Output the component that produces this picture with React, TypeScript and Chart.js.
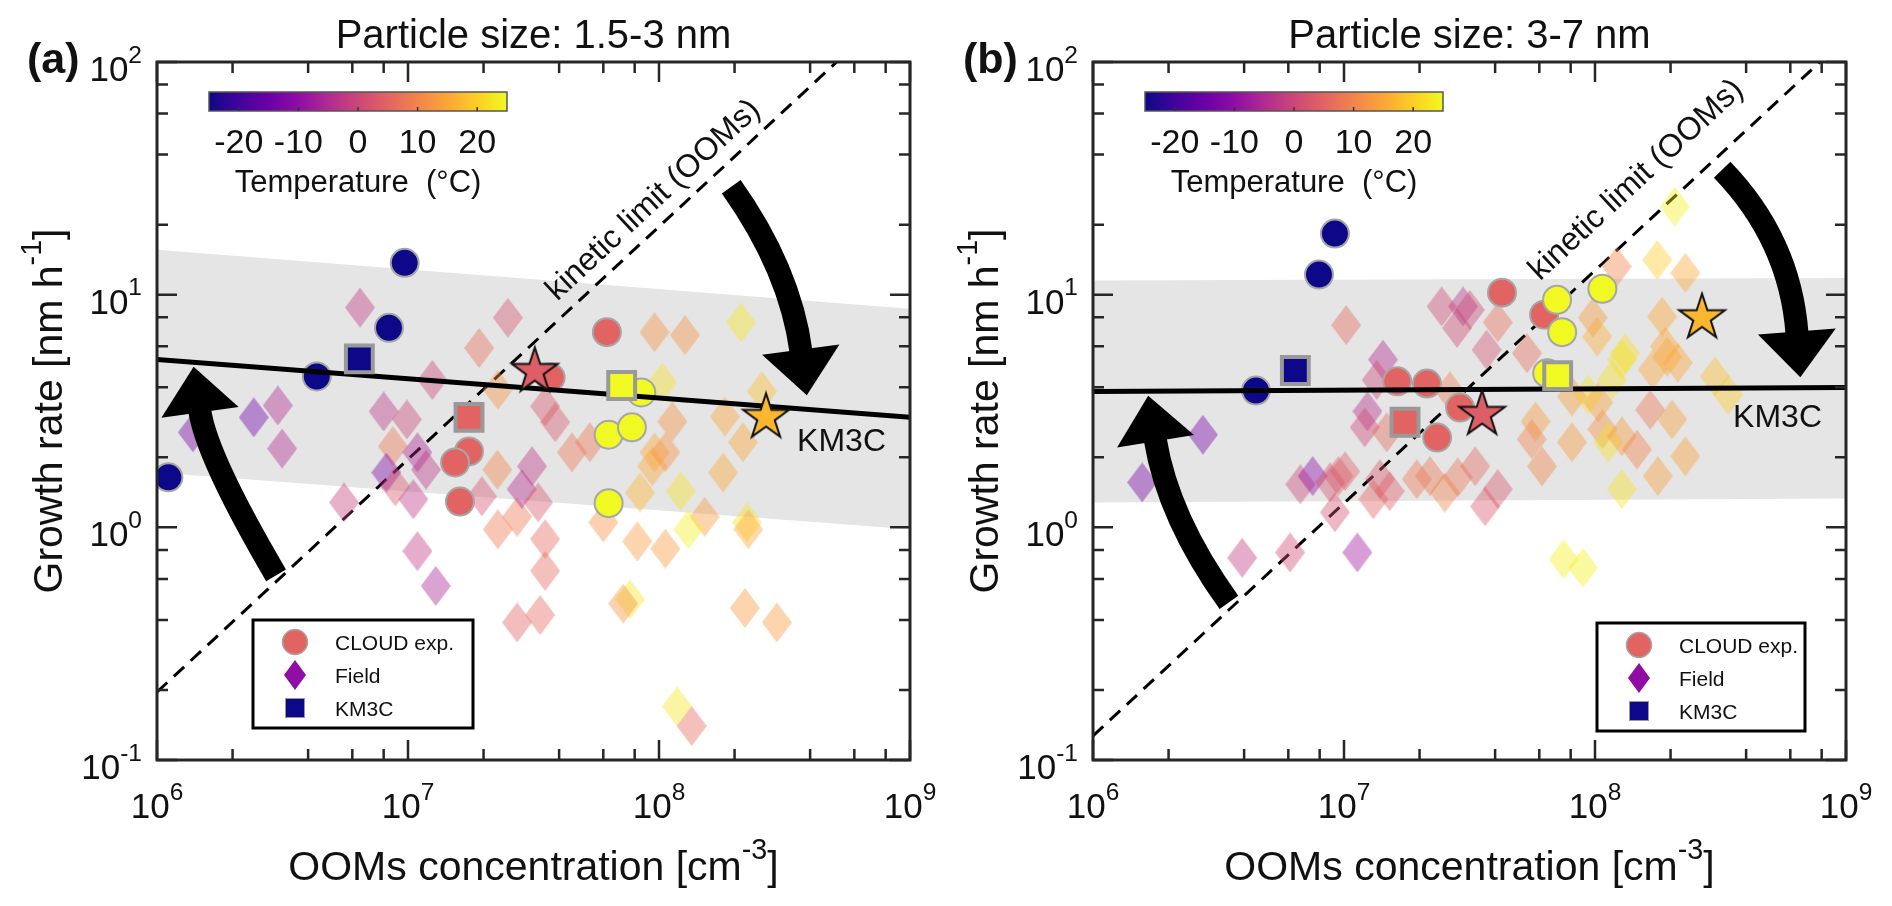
import { useEffect, useRef } from 'react';
import { Chart, registerables } from 'chart.js';

Chart.register(...registerables);

const FONT = '"Liberation Sans", Arial, Helvetica, sans-serif';

// axis ranges
const X_MIN = 1e6;
const X_MAX = 1e9;
const Y_MIN = 0.1;
const Y_MAX = 100;
const LINE_CONC = [1e6, 1e9];

// temperature colour scale (degC)
const T_MIN = -25;
const T_MAX = 25;
const T_TICKS = [-20, -10, 0, 10, 20];

// ---------- panel (a): 1.5-3 nm ----------
const cloudConcA = [9.7e6, 8.4e6, 4.33e6, 1.11e6, 1.75e7, 1.54e7, 1.61e7, 3.7e7, 6.2e7, 8.5e7, 6.3e7, 7.8e7, 6.3e7];
const cloudGrA = [13.7, 7.2, 4.45, 1.64, 2.12, 1.9, 1.29, 4.4, 6.9, 3.8, 2.5, 2.69, 1.27];
const cloudTempA = [-25, -25, -25, -25, 5, 5, 5, 5, 5, 25, 25, 25, 25];

const km3cConcA = [6.4e6, 1.75e7, 7.1e7];
const km3cGrA = [5.3, 2.97, 4.07];
const km3cTempA = [-25, 5, 25];

const starConcA = [3.2e7, 2.67e8];
const starGrA = [4.68, 2.97];
const starTempA = [4, 17];

const fieldConcA = [
  6.44e6, 3.03e6, 2.43e6, 3.15e6, 1.39e6, 8.0e6, 9.9e6, 8.7e6, 8.2e6, 1.09e7,
  1.18e7, 1.25e7, 5.56e6, 1.05e7, 8.9e6, 1.09e7, 1.29e7, 2.5e7, 1.92e7, 2.28e7,
  2.72e7, 2.28e7, 2.27e7, 2.72e7, 1.97e7, 2.84e7, 9.6e7, 1.27e8, 2.12e8, 1.03e8,
  2.57e8, 1.13e8, 1.83e8, 2.16e8, 9.6e7, 9.4e7, 1.06e8, 4.5e7, 5.3e7, 3.86e7,
  3.52e7, 3.12e7, 1.8e8, 8.4e7, 1.22e8, 1.52e8, 1.31e8, 2.24e8, 2.27e8, 6.0e7,
  8.2e7, 1.06e8, 3.52e7, 3.52e7, 3.36e7, 7.66e7, 7.2e7, 2.2e8, 2.95e8, 1.18e8,
  1.35e8, 3.3e7,
];
const fieldGrA = [
  8.8, 3.34, 2.97, 2.18, 2.56, 3.15, 2.91, 2.23, 1.72, 2.1,
  1.77, 4.3, 1.28, 1.32, 1.5, 0.79, 0.56, 7.96, 5.9, 3.9,
  0.39, 0.98, 1.77, 1.11, 1.36, 1.46, 6.9, 6.7, 7.6, 4.19,
  3.84, 2.85, 2.99, 2.32, 2.1, 1.83, 2.1, 2.1, 2.32, 2.83,
  3.31, 1.83, 1.72, 1.41, 1.43, 1.11, 0.98, 1.05, 0.98, 1.05,
  0.87, 0.81, 0.89, 0.65, 0.42, 0.49, 0.47, 0.45, 0.39, 0.17,
  0.14, 1.28,
];
const fieldTempA = [
  -2, -5, -14, -5, -13, -3, 0, 8, -12, -6,
  -3, 0, -1, -3, 3, -2, -6, 2, 7, 12,
  5, 8, 10, 8, 2, -5, 12, 12, 23, 22,
  18, 12, 15, 15, 15, 15, 12, 8, 8, 3,
  3, -3, 15, 17, 22, 13, 24, 22, 15, 12,
  13, 13, 6, 6, 6, 23, 12, 13, 13, 23,
  6, 3,
];

const fitGrA = [5.26, 2.97];
const bandUpperA = [15.6, 8.7];
const bandLowerA = [1.72, 0.98];
const kineticConcA = [1e6, 5.1e8];
const kineticGrA = [0.196, 100];

// ---------- panel (b): 3-7 nm ----------
const cloudConcB = [9.2e6, 7.95e6, 4.46e6, 1.63e7, 2.14e7, 2.9e7, 2.35e7, 4.26e7, 6.27e7, 7.06e7, 1.07e8, 7.4e7, 6.45e7];
const cloudGrB = [18.3, 12.2, 3.87, 4.24, 4.15, 3.27, 2.43, 10.2, 8.2, 9.5, 10.6, 6.9, 4.6];
const cloudTempB = [-25, -25, -25, 5, 5, 5, 5, 5, 5, 25, 25, 25, 25];

const km3cConcB = [6.4e6, 1.75e7, 7.1e7];
const km3cGrB = [4.72, 2.83, 4.49];
const km3cTempB = [-25, 5, 25];

const starConcB = [3.55e7, 2.67e8];
const starGrB = [3.06, 7.96];
const starTempB = [4, 17];

const fieldConcB = [
  1.02e7, 2.74e6, 1.57e6, 1.43e7, 1.35e7, 1.24e7, 1.21e7, 2.45e7, 2.82e7, 2.98e7,
  6.7e6, 7.5e6, 9.5e6, 1.01e7, 8.8e6, 1.39e7, 1.31e7, 1.52e7, 1.95e7, 2.2e7,
  2.52e7, 2.84e7, 9.2e6, 3.93e6, 6.1e6, 1.13e7, 1.48e7, 2.64e7, 2.08e8, 1.77e8,
  1.22e8, 2.29e8, 4.1e7, 3.17e7, 3.7e7, 5.36e7, 9.8e7, 1.02e8, 1.85e8, 1.32e8,
  1.28e8, 1.94e8, 2.14e8, 1.7e8, 3.0e8, 3.39e8, 1.17e8, 9.4e7, 8.1e7, 1.03e8,
  5.8e7, 5.6e7, 8.1e7, 1.07e8, 1.13e8, 1.28e8, 1.66e8, 2.03e8, 1.47e8, 2.29e8,
  1.78e8, 1.28e8, 6.15e7, 4.1e7, 3.65e7, 3.33e7, 7.5e7, 8.95e7, 1.9e8,
];
const fieldGrB = [
  7.4, 2.5, 1.56, 5.26, 4.3, 3.15, 2.69, 8.9, 7.2, 8.9,
  1.53, 1.66, 1.66, 1.74, 1.56, 1.61, 1.32, 1.43, 1.61, 1.66,
  1.41, 1.64, 1.16, 0.74, 0.78, 0.78, 2.56, 3.84, 23.9, 14.1,
  13.2, 12.4, 7.6, 8.6, 5.8, 5.6, 7.96, 6.6, 8.05, 5.6,
  5.26, 5.4, 5.1, 4.77, 4.45, 3.72, 4.31, 3.72, 3.65, 3.44,
  2.85, 2.39, 2.32, 2.64, 2.32, 2.46, 3.2, 2.91, 2.16, 2.02,
  1.66, 1.46, 1.83, 1.46, 1.23, 1.83, 0.73, 0.67, 6.0,
];
const fieldTempB = [
  6, -13, -13, -5, 0, -4, 0, 1, 1, -3,
  0, -10, 4, 4, 2, 3, 5, 4, 8, 8,
  10, 8, 2, -2, 1, -8, 6, 9, 24, 20,
  10, 15, 7, 0, 2, 7, 13, 16, 15, 22,
  22, 15, 15, 15, 18, 20, 22, 22, 14, 14,
  13, 10, 13, 12, 22, 13, 8, 14, 10, 14,
  14, 22, 10, 3, 3, 6, 24, 24, 15,
];

const fitGrB = [3.84, 3.99];
const bandUpperB = [11.5, 11.8];
const bandLowerB = [1.28, 1.33];
const kineticConcB = [1e6, 7.87e8];
const kineticGrB = [0.127, 100];

// curved arrows: tail, control, head base (conc, GR pairs)
const arrowsA = [
  [2.98e6, 0.622, 1.57e6, 2.02, 1.48e6, 3.18],
  [1.94e8, 29.1, 3.33e8, 12.8, 3.68e8, 5.69],
];
const arrowsB = [
  [3.48e6, 0.476, 1.99e6, 1.1, 1.77e6, 2.39],
  [3.21e8, 34.4, 5.98e8, 17.2, 6.38e8, 6.81],
];

const PLASMA = ['#0d0887', '#41049d', '#6a00a8', '#8f0da4', '#b12a90', '#cc4778', '#e16462', '#f2844b', '#fca636', '#fcce25', '#f0f921'];

function hexRgb(h: string) {
  return [parseInt(h.slice(1, 3), 16), parseInt(h.slice(3, 5), 16), parseInt(h.slice(5, 7), 16)];
}

function tempColor(T: number, alpha = 1) {
  const t = Math.min(1, Math.max(0, (T - T_MIN) / (T_MAX - T_MIN))) * 10;
  const i = Math.min(9, Math.floor(t));
  const f = t - i;
  const a = hexRgb(PLASMA[i]);
  const b = hexRgb(PLASMA[i + 1]);
  const c = a.map((v, k) => Math.round(v + (b[k] - v) * f));
  return `rgba(${c[0]},${c[1]},${c[2]},${alpha})`;
}

function diamondImg(color: string, w = 30, h = 40) {
  const c = document.createElement('canvas');
  c.width = w;
  c.height = h;
  const g = c.getContext('2d')!;
  g.fillStyle = color;
  g.beginPath();
  g.moveTo(w / 2, 0);
  g.lineTo(w, h / 2);
  g.lineTo(w / 2, h);
  g.lineTo(0, h / 2);
  g.closePath();
  g.fill();
  return c;
}

function starPath(g: CanvasRenderingContext2D, cx: number, cy: number, r: number) {
  g.beginPath();
  for (let k = 0; k < 10; k++) {
    const rr = k % 2 === 0 ? r : r * 0.382;
    const ang = -Math.PI / 2 + (k * Math.PI) / 5;
    const px = cx + rr * Math.cos(ang);
    const py = cy + rr * Math.sin(ang);
    if (k === 0) g.moveTo(px, py);
    else g.lineTo(px, py);
  }
  g.closePath();
}

function starImg(color: string, r = 24) {
  const s = Math.ceil(2 * r + 6);
  const c = document.createElement('canvas');
  c.width = s;
  c.height = s;
  const g = c.getContext('2d')!;
  starPath(g, s / 2, s / 2, r);
  g.fillStyle = color;
  g.fill();
  g.lineWidth = 2;
  g.lineJoin = 'miter';
  g.strokeStyle = '#111';
  g.stroke();
  return c;
}

type Part = [string, boolean];

function drawRich(ctx: CanvasRenderingContext2D, parts: Part[], x: number, y: number, size: number, align: 'left' | 'center' | 'right') {
  const supSize = size * 0.7;
  const widths = parts.map(([t, sup]) => {
    ctx.font = `${sup ? supSize : size}px ${FONT}`;
    return ctx.measureText(t).width;
  });
  const total = widths.reduce((s, w) => s + w, 0);
  let cx = align === 'left' ? x : align === 'center' ? x - total / 2 : x - total;
  ctx.textAlign = 'left';
  ctx.textBaseline = 'alphabetic';
  parts.forEach(([t, sup], i) => {
    ctx.font = `${sup ? supSize : size}px ${FONT}`;
    ctx.fillText(t, cx, sup ? y - size * 0.52 : y);
    cx += widths[i];
  });
}

interface Panel {
  tag: string;
  title: string;
  cloud: { conc: number[]; gr: number[]; temp: number[] };
  km3c: { conc: number[]; gr: number[]; temp: number[] };
  star: { conc: number[]; gr: number[]; temp: number[] };
  field: { conc: number[]; gr: number[]; temp: number[] };
  fit: number[];
  upper: number[];
  lower: number[];
  kinConc: number[];
  kinGr: number[];
  arrows: number[][];
  km3cLabel: [number, number];
  kinLabel: [number, number];
  legend: { dx: number; dy: number; w: number };
}

const panelA: Panel = {
  tag: '(a)',
  title: 'Particle size: 1.5-3 nm',
  cloud: { conc: cloudConcA, gr: cloudGrA, temp: cloudTempA },
  km3c: { conc: km3cConcA, gr: km3cGrA, temp: km3cTempA },
  star: { conc: starConcA, gr: starGrA, temp: starTempA },
  field: { conc: fieldConcA, gr: fieldGrA, temp: fieldTempA },
  fit: fitGrA,
  upper: bandUpperA,
  lower: bandLowerA,
  kinConc: kineticConcA,
  kinGr: kineticGrA,
  arrows: arrowsA,
  km3cLabel: [3.55e8, 2.12],
  kinLabel: [3.93e7, 9.33],
  legend: { dx: 96, dy: 558, w: 220 },
};

const panelB: Panel = {
  tag: '(b)',
  title: 'Particle size: 3-7 nm',
  cloud: { conc: cloudConcB, gr: cloudGrB, temp: cloudTempB },
  km3c: { conc: km3cConcB, gr: km3cGrB, temp: km3cTempB },
  star: { conc: starConcB, gr: starGrB, temp: starTempB },
  field: { conc: fieldConcB, gr: fieldGrB, temp: fieldTempB },
  fit: fitGrB,
  upper: bandUpperB,
  lower: bandLowerB,
  kinConc: kineticConcB,
  kinGr: kineticGrB,
  arrows: arrowsB,
  km3cLabel: [3.55e8, 2.69],
  kinLabel: [6.04e7, 11.4],
  legend: { dx: 504, dy: 561, w: 208 },
};

const pts = (conc: number[], gr: number[]) => conc.map((c, i) => ({ x: c, y: gr[i] }));

function makeDatasets(p: Panel): any[] {
  return [
    {
      data: pts(LINE_CONC, p.upper), showLine: true, fill: '+1', backgroundColor: '#e5e5e5',
      borderColor: 'rgba(0,0,0,0)', borderWidth: 0, pointRadius: 0, order: 10,
    },
    {
      data: pts(LINE_CONC, p.lower), showLine: true, fill: false,
      borderColor: 'rgba(0,0,0,0)', borderWidth: 0, pointRadius: 0, order: 10,
    },
    {
      data: pts(p.kinConc, p.kinGr), showLine: true, borderColor: '#000', borderWidth: 3,
      borderDash: [14, 9], pointRadius: 0, order: 9,
    },
    {
      data: pts(p.field.conc, p.field.gr), order: 8, pointRadius: 15,
      pointStyle: p.field.temp.map((t) => diamondImg(tempColor(t, 0.42))),
    },
    {
      data: pts(p.cloud.conc, p.cloud.gr), order: 7, pointStyle: 'circle', pointRadius: 14,
      pointBackgroundColor: p.cloud.temp.map((t) => tempColor(t)), pointBorderColor: '#a6a6a6', pointBorderWidth: 2,
    },
    {
      data: pts(LINE_CONC, p.fit), showLine: true, borderColor: '#000', borderWidth: 5, pointRadius: 0, order: 6,
    },
    {
      data: pts(p.km3c.conc, p.km3c.gr), order: 5, pointStyle: 'rect', pointRadius: 19,
      pointBackgroundColor: p.km3c.temp.map((t) => tempColor(t)), pointBorderColor: '#999', pointBorderWidth: 4,
    },
    {
      data: pts(p.star.conc, p.star.gr), order: 4, pointRadius: 24,
      pointStyle: p.star.temp.map((t) => starImg(tempColor(t))),
    },
  ];
}

function drawArrow(ctx: CanvasRenderingContext2D, x: any, y: any, a: number[]) {
  const p0 = { x: x.getPixelForValue(a[0]), y: y.getPixelForValue(a[1]) };
  const c = { x: x.getPixelForValue(a[2]), y: y.getPixelForValue(a[3]) };
  const p2 = { x: x.getPixelForValue(a[4]), y: y.getPixelForValue(a[5]) };
  ctx.strokeStyle = '#000';
  ctx.fillStyle = '#000';
  ctx.lineWidth = 23;
  ctx.lineCap = 'butt';
  ctx.beginPath();
  ctx.moveTo(p0.x, p0.y);
  ctx.quadraticCurveTo(c.x, c.y, p2.x, p2.y);
  ctx.stroke();
  const dx = p2.x - c.x;
  const dy = p2.y - c.y;
  const len = Math.hypot(dx, dy);
  const ux = dx / len;
  const uy = dy / len;
  const bx = p2.x - ux * 2;
  const by = p2.y - uy * 2;
  ctx.beginPath();
  ctx.moveTo(bx - uy * 39, by + ux * 39);
  ctx.lineTo(bx + uy * 39, by - ux * 39);
  ctx.lineTo(p2.x + ux * 44, p2.y + uy * 44);
  ctx.closePath();
  ctx.fill();
}

function panelPlugin(p: Panel) {
  return {
    id: 'panelDecor',
    afterDatasetsDraw(chart: any) {
      const { ctx, scales } = chart;
      ctx.save();
      p.arrows.forEach((a) => drawArrow(ctx, scales.x, scales.y, a));
      ctx.restore();
    },
    afterDraw(chart: any) {
      const { ctx, chartArea: area, scales } = chart;
      const { x, y } = scales;
      const L = area.left;
      const R = area.right;
      const T = area.top;
      const B = area.bottom;
      ctx.save();
      ctx.fillStyle = '#111';

      // text labels in the plot
      ctx.font = `32px ${FONT}`;
      ctx.textAlign = 'left';
      ctx.textBaseline = 'alphabetic';
      ctx.fillText('KM3C', x.getPixelForValue(p.km3cLabel[0]), y.getPixelForValue(p.km3cLabel[1]));
      const k0x = x.getPixelForValue(p.kinConc[0]);
      const k0y = y.getPixelForValue(p.kinGr[0]);
      const k1x = x.getPixelForValue(p.kinConc[1]);
      const k1y = y.getPixelForValue(p.kinGr[1]);
      ctx.save();
      ctx.translate(x.getPixelForValue(p.kinLabel[0]), y.getPixelForValue(p.kinLabel[1]));
      ctx.rotate(Math.atan2(k1y - k0y, k1x - k0x));
      ctx.fillText('kinetic limit (OOMs)', 0, 0);
      ctx.restore();

      // legend
      const lx = L + p.legend.dx;
      const ly = T + p.legend.dy;
      ctx.fillStyle = '#fff';
      ctx.fillRect(lx, ly, p.legend.w, 108);
      ctx.lineWidth = 3;
      ctx.strokeStyle = '#000';
      ctx.strokeRect(lx, ly, p.legend.w, 108);
      const mx = lx + 42;
      ctx.beginPath();
      ctx.arc(mx, ly + 22, 12.5, 0, Math.PI * 2);
      ctx.fillStyle = tempColor(5);
      ctx.fill();
      ctx.lineWidth = 1.5;
      ctx.strokeStyle = '#a6a6a6';
      ctx.stroke();
      ctx.beginPath();
      ctx.moveTo(mx, ly + 40);
      ctx.lineTo(mx + 11, ly + 55);
      ctx.lineTo(mx, ly + 70);
      ctx.lineTo(mx - 11, ly + 55);
      ctx.closePath();
      ctx.fillStyle = tempColor(-10);
      ctx.fill();
      ctx.fillStyle = tempColor(-25);
      ctx.fillRect(mx - 9.5, ly + 78.5, 19, 19);
      ctx.strokeStyle = '#999';
      ctx.lineWidth = 1;
      ctx.strokeRect(mx - 9.5, ly + 78.5, 19, 19);
      ctx.fillStyle = '#111';
      ctx.font = `21px ${FONT}`;
      ctx.fillText('CLOUD exp.', lx + 82, ly + 30);
      ctx.fillText('Field', lx + 82, ly + 63);
      ctx.fillText('KM3C', lx + 82, ly + 96);

      // colour bar
      const cbL = L + 52;
      const cbR = L + 350;
      const cbT = T + 30;
      const cbH = 19;
      const grad = ctx.createLinearGradient(cbL, 0, cbR, 0);
      PLASMA.forEach((c, i) => grad.addColorStop(i / (PLASMA.length - 1), c));
      ctx.fillStyle = grad;
      ctx.fillRect(cbL, cbT, cbR - cbL, cbH);
      ctx.strokeStyle = '#555';
      ctx.lineWidth = 1.5;
      ctx.strokeRect(cbL, cbT, cbR - cbL, cbH);
      ctx.fillStyle = '#111';
      ctx.font = `34px ${FONT}`;
      ctx.textAlign = 'center';
      T_TICKS.forEach((t) => {
        const px = cbL + ((t - T_MIN) / (T_MAX - T_MIN)) * (cbR - cbL);
        ctx.strokeStyle = '#333';
        ctx.beginPath();
        ctx.moveTo(px, cbT + cbH);
        ctx.lineTo(px, cbT + cbH - 4);
        ctx.stroke();
        ctx.fillText(String(t), px, T + 91);
      });
      ctx.font = `31px ${FONT}`;
      ctx.fillText('Temperature  (°C)', (cbL + cbR) / 2, T + 130);

      // frame and inward ticks
      ctx.strokeStyle = '#262626';
      ctx.lineWidth = 3;
      ctx.strokeRect(L, T, R - L, B - T);
      ctx.lineWidth = 2.5;
      ctx.beginPath();
      for (let e = 6; e <= 9; e++) {
        for (const m of [1, 2, 4, 6, 8]) {
          const v = m * 10 ** e;
          if (v > X_MAX) continue;
          const px = x.getPixelForValue(v);
          const len = m === 1 ? 20 : 11;
          ctx.moveTo(px, B);
          ctx.lineTo(px, B - len);
          ctx.moveTo(px, T);
          ctx.lineTo(px, T + len);
        }
      }
      for (let e = -1; e <= 2; e++) {
        for (const m of [1, 2, 4, 6, 8]) {
          const v = m * 10 ** e;
          if (v > Y_MAX) continue;
          const py = y.getPixelForValue(v);
          const len = m === 1 ? 20 : 11;
          ctx.moveTo(L, py);
          ctx.lineTo(L + len, py);
          ctx.moveTo(R, py);
          ctx.lineTo(R - len, py);
        }
      }
      ctx.stroke();

      // tick labels
      ctx.fillStyle = '#111';
      for (let e = 6; e <= 9; e++) {
        drawRich(ctx, [['10', false], [String(e), true]], x.getPixelForValue(10 ** e), B + 58, 35, 'center');
      }
      for (let e = -1; e <= 2; e++) {
        drawRich(ctx, [['10', false], [String(e), true]], L - 15, y.getPixelForValue(10 ** e) + 19, 35, 'right');
      }

      // titles
      ctx.font = `40px ${FONT}`;
      ctx.textAlign = 'center';
      ctx.fillText(p.title, (L + R) / 2, T - 14);
      ctx.font = `bold 43px ${FONT}`;
      ctx.textAlign = 'left';
      ctx.fillText(p.tag, L - 130, T + 11);
      drawRich(ctx, [['OOMs concentration [cm', false], ['-3', true], [']', false]], (L + R) / 2, B + 120, 41, 'center');
      ctx.save();
      ctx.translate(L - 95, (T + B) / 2);
      ctx.rotate(-Math.PI / 2);
      drawRich(ctx, [['Growth rate [nm h', false], ['-1', true], [']', false]], 0, 0, 41, 'center');
      ctx.restore();

      ctx.restore();
    },
  };
}

function PanelChart({ panel, left }: { panel: Panel; left: number }) {
  const canvasRef = useRef<HTMLCanvasElement>(null);

  useEffect(() => {
    if (!canvasRef.current) return;
    const chart = new Chart(canvasRef.current, {
      type: 'scatter',
      data: { datasets: makeDatasets(panel) },
      options: {
        responsive: false,
        animation: false,
        events: [],
        layout: { autoPadding: false, padding: { left: 157, right: 36, top: 62, bottom: 146 } },
        scales: {
          x: { type: 'logarithmic', min: X_MIN, max: X_MAX, display: false },
          y: { type: 'logarithmic', min: Y_MIN, max: Y_MAX, display: false },
        },
        plugins: { legend: { display: false }, tooltip: { enabled: false } },
      } as any,
      plugins: [panelPlugin(panel)],
    });
    return () => chart.destroy();
  }, [panel]);

  return (
    <canvas ref={canvasRef} width={946} height={906} style={{ position: 'absolute', left, top: 0 }} />
  );
}

export default function App() {
  return (
    <div style={{ position: 'absolute', left: 0, top: 0, width: 1892, height: 906, background: '#fff' }}>
      <PanelChart panel={panelA} left={0} />
      <PanelChart panel={panelB} left={936} />
    </div>
  );
}
